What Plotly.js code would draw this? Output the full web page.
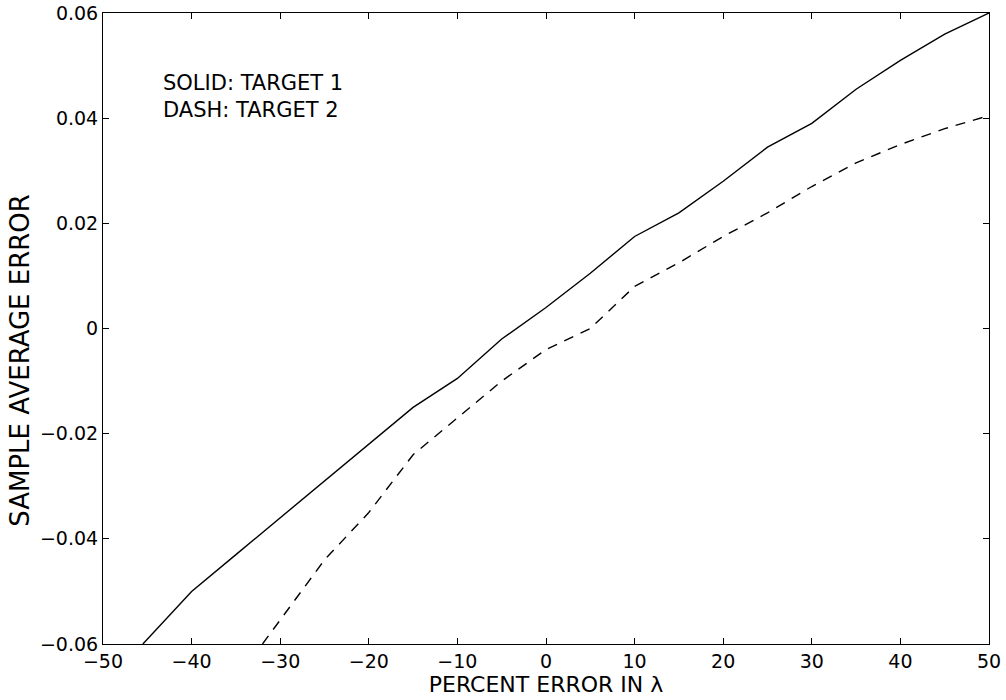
<!DOCTYPE html>
<html>
<head>
<meta charset="utf-8">
<script src="https://cdn.plot.ly/plotly-3.0.1.min.js"></script>
<style>html,body{margin:0;padding:0;background:#fff;}#chart{width:1006px;height:700px;}</style>
</head>
<body>
<div id="chart"></div>
<script>
const solidX = [-45.5, -40, -35, -30, -25, -20, -15, -10, -5, 0, 5, 10, 15, 20, 25, 30, 35, 40, 45, 50];
const solidY = [-0.060, -0.050, -0.043, -0.036, -0.029, -0.022, -0.015, -0.0095, -0.002, 0.004, 0.0105, 0.0175, 0.022, 0.028, 0.0345, 0.039, 0.0455, 0.051, 0.056, 0.060];
const dashX = [-32, -25, -20, -15, -10, -5, 0, 5, 10, 15, 20, 25, 30, 35, 40, 45, 50];
const dashY = [-0.060, -0.044, -0.035, -0.024, -0.017, -0.010, -0.004, 0.000, 0.008, 0.0125, 0.0175, 0.022, 0.027, 0.0315, 0.035, 0.038, 0.0405];
const xTicks = [-50, -40, -30, -20, -10, 0, 10, 20, 30, 40, 50];
const yTicks = [-0.06, -0.04, -0.02, 0, 0.02, 0.04, 0.06];
const yTickText = ['\u22120.06', '\u22120.04', '\u22120.02', '0', '0.02', '0.04', '0.06'];
const legendLines = ['SOLID: TARGET 1', 'DASH: TARGET 2'];

const fam = 'DejaVu Sans, Liberation Sans, Arial, sans-serif';
const tickFont = {family: fam, size: 19, color: '#000'};

const traces = [
  {x: solidX, y: solidY, mode: 'lines', line: {color: '#000', width: 1.4, dash: 'solid'}, name: 'TARGET 1'},
  {x: dashX, y: dashY, mode: 'lines', line: {color: '#000', width: 1.4, dash: '10px,8px'}, name: 'TARGET 2'}
];

const axisCommon = {
  showgrid: false, zeroline: false, showline: true, linecolor: '#000', linewidth: 1,
  mirror: 'ticks', ticks: 'inside', ticklen: 6, tickcolor: '#000', tickwidth: 1,
  tickfont: tickFont
};

const layout = {
  width: 1006, height: 700,
  margin: {l: 103, r: 17, t: 13, b: 56},
  paper_bgcolor: '#fff', plot_bgcolor: '#fff',
  showlegend: false,
  font: tickFont,
  xaxis: Object.assign({}, axisCommon, {
    range: [-50, 50], tickvals: xTicks, ticktext: xTicks.map(v => v < 0 ? '\u2212' + Math.abs(v) : String(v)),
    title: {text: 'PERCENT ERROR IN \u03bb', font: {family: fam, size: 22, color: '#000'}, standoff: 1}
  }),
  yaxis: Object.assign({}, axisCommon, {
    range: [-0.06, 0.06], tickvals: yTicks, ticktext: yTickText
  }),
  annotations: [
    {text: 'SAMPLE AVERAGE ERROR', xref: 'paper', yref: 'paper', x: -0.094, y: 0.45, textangle: -90,
     showarrow: false, font: {family: fam, size: 26, color: '#000'}, xanchor: 'center', yanchor: 'middle'},
    {text: legendLines.join('<br>'), xref: 'paper', yref: 'paper', x: 0.066, y: 0.868,
     xanchor: 'left', yanchor: 'middle', align: 'left', showarrow: false,
     font: {family: fam, size: 21, color: '#000'}}
  ]
};

Plotly.newPlot('chart', traces, layout, {displayModeBar: false, staticPlot: true});
</script>
</body>
</html>
